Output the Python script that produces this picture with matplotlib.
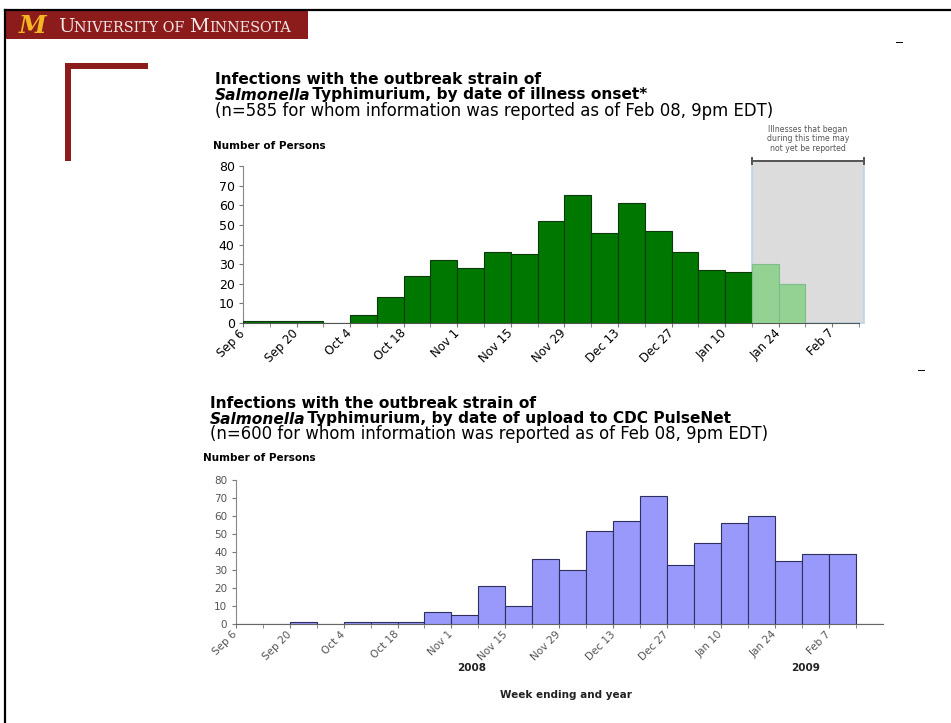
import numpy as np
import matplotlib
matplotlib.use('Agg')
import matplotlib.pyplot as plt
from matplotlib.patches import Rectangle
from matplotlib.lines import Line2D

W, H = 951, 723

# week-ending labels, one every second week, starting Sep 6 2008
week_labels = ['Sep 6', 'Sep 20', 'Oct 4', 'Oct 18', 'Nov 1', 'Nov 15',
               'Nov 29', 'Dec 13', 'Dec 27', 'Jan 10', 'Jan 24', 'Feb 7']
y_ticks = [0, 10, 20, 30, 40, 50, 60, 70, 80]

# persons per week by date of illness onset (n=585)
onset_counts = [1, 1, 1, 0, 4, 13, 24, 32, 28, 36, 35, 52, 65, 46, 61, 47,
                36, 27, 26, 30, 20, 0, 0]
onset_late_from = 19   # weeks from here on may not be fully reported yet

# persons per week by date of upload to PulseNet (n=600)
upload_counts = [0, 0, 1, 0, 1, 1, 1, 7, 5, 21, 10, 36, 30, 52, 57, 71,
                 33, 45, 56, 60, 35, 39, 39, 0]

plt.rcParams['font.family'] = ['DejaVu Sans']

fig = plt.figure(figsize=(W / 100, H / 100), dpi=100)
fig.patch.set_facecolor('white')


def fx(x):
    return x / W


def fy(y):
    return 1 - y / H


def axes_px(left, top, right, bottom):
    return fig.add_axes([left / W, 1 - bottom / H, (right - left) / W, (bottom - top) / H])


def fig_rect(x0, y0, x1, y1, color):
    fig.add_artist(Rectangle((fx(x0), fy(y1)), (x1 - x0) / W, (y1 - y0) / H,
                             transform=fig.transFigure, facecolor=color, edgecolor='none'))


def put_runs(x_px, y_px, runs, **common):
    # write pieces of text one after another on the same baseline
    renderer = fig.canvas.get_renderer()
    x = fx(x_px)
    for text, kw in runs:
        opts = dict(common)
        opts.update(kw)
        shift = opts.pop('shift', 0)
        x += shift / W
        t = fig.text(x, fy(y_px), text, ha='left', va='baseline', **opts)
        bb = t.get_window_extent(renderer)
        x = bb.x1 / fig.bbox.width


# ---- slide decoration ----
fig.add_artist(Line2D([fx(5), fx(951)], [fy(10), fy(10)], color='black', lw=1.6,
                      transform=fig.transFigure))
fig.add_artist(Line2D([fx(5), fx(5)], [fy(10), fy(723)], color='black', lw=1.6,
                      transform=fig.transFigure))
fig_rect(5, 11, 308, 39, '#8c1c1c')
fig.text(fx(33), fy(26), 'M', ha='center', va='center', fontsize=18, weight='bold',
         style='italic', family='DejaVu Serif', color='#f4b523')
put_runs(58, 32, [('U', dict(fontsize=14)), ('NIVERSITY OF ', dict(fontsize=10.4)),
                  ('M', dict(fontsize=14)), ('INNESOTA', dict(fontsize=10.4))],
         family='DejaVu Serif', color='#f5e8e8')
fig_rect(65, 63, 71, 161, '#8c1c1c')
fig_rect(65, 63, 148, 69, '#8c1c1c')
fig.add_artist(Line2D([fx(896), fx(902)], [fy(42), fy(42)], color='black', lw=0.7,
                      transform=fig.transFigure))
fig.add_artist(Line2D([fx(918), fx(924)], [fy(370), fy(370)], color='black', lw=0.7,
                      transform=fig.transFigure))

# ---- top chart: by illness onset ----
put_runs(215, 83.5, [('Infections with the outbreak strain of', dict(weight='bold'))],
         fontsize=11.1)
put_runs(215, 99.5, [('Salmonella', dict(style='italic', weight='bold')),
                     (' Typhimurium, by date of illness onset*', dict(weight='bold', shift=-4))],
         fontsize=11.1)
put_runs(215, 115.5, [('(n=585 for whom information was reported as of Feb 08, 9pm EDT)', {})],
         fontsize=11.9)
fig.text(fx(213), fy(146), 'Number of Persons', ha='left', va='center', fontsize=7.5,
         weight='bold')

ax1 = axes_px(243, 166, 859, 323)
x1 = np.arange(len(onset_counts))
fills = ['#007800' if i < onset_late_from else '#93d293' for i in x1]
edges = ['#0c3a0c' if i < onset_late_from else '#7cbf8c' for i in x1]
ax1.bar(x1, onset_counts, width=1, align='edge', color=fills, edgecolor=edges,
        linewidth=0.8, zorder=3)
box_right = len(onset_counts) + 0.2
ax1.add_patch(Rectangle((onset_late_from, 0), box_right - onset_late_from, 82.5,
                        facecolor='#dcdcdc', edgecolor='#bcd4e8', lw=1.2, zorder=1,
                        clip_on=False))
ax1.plot([onset_late_from, box_right], [82.5, 82.5], color='#555555', lw=1.4, clip_on=False,
         zorder=4)
for xb in (onset_late_from, box_right):
    ax1.plot([xb, xb], [80.8, 84.2], color='#555555', lw=1.4, clip_on=False, zorder=4)
ax1.text((onset_late_from + box_right) / 2, 93.8,
         'Illnesses that began\nduring this time may\nnot yet be reported',
         ha='center', va='center', fontsize=5.6, color='#555555', linespacing=1.05)
ax1.set_xlim(0, len(onset_counts))
ax1.set_ylim(0, 80)
ax1.set_xticks(np.arange(0, 24, 2), week_labels)
ax1.set_xticks(np.arange(1, 24, 2), minor=True)
ax1.set_yticks(y_ticks)
for s in ('top', 'right'):
    ax1.spines[s].set_visible(False)
ax1.spines['left'].set_color('#888888')
ax1.spines['bottom'].set_color('#555555')
ax1.tick_params(axis='both', which='both', direction='out', length=3, color='#777777')
ax1.tick_params(axis='y', labelsize=9, pad=3)
ax1.tick_params(axis='x', labelsize=8.5, pad=3)
for lbl in ax1.get_xticklabels():
    lbl.set_rotation(45)
    lbl.set_ha('right')
    lbl.set_va('center')
    lbl.set_rotation_mode('anchor')
ax1.set_facecolor('none')

# ---- bottom chart: by upload to PulseNet ----
put_runs(210, 407.5, [('Infections with the outbreak strain of', dict(weight='bold'))],
         fontsize=11.1)
put_runs(210, 423.5, [('Salmonella', dict(style='italic', weight='bold')),
                      (' Typhimurium, by date of upload to CDC PulseNet',
                       dict(weight='bold', shift=-4))],
         fontsize=11.1)
put_runs(210, 439.5, [('(n=600 for whom information was reported as of Feb 08, 9pm EDT)', {})],
         fontsize=11.9)
fig.text(fx(203), fy(458), 'Number of Persons', ha='left', va='center', fontsize=7.5,
         weight='bold')

ax2 = axes_px(235.7, 480, 883, 624.3)
x2 = np.arange(len(upload_counts))
ax2.bar(x2, upload_counts, width=1, align='edge', color='#9999fb', edgecolor='#2f2f5f',
        linewidth=0.8, zorder=3)
ax2.set_xlim(0, len(upload_counts))
ax2.set_ylim(0, 80)
ax2.set_xticks(np.arange(0, 24, 2), week_labels)
ax2.set_xticks(np.arange(1, 25, 2), minor=True)
ax2.set_yticks(y_ticks)
for s in ('top', 'right'):
    ax2.spines[s].set_visible(False)
ax2.spines['left'].set_color('#888888')
ax2.spines['bottom'].set_color('#666666')
ax2.tick_params(axis='both', which='both', direction='out', length=3, color='#777777',
                labelcolor='#555555')
ax2.tick_params(axis='y', labelsize=7.5, pad=3)
ax2.tick_params(axis='x', labelsize=7.5, pad=3)
for lbl in ax2.get_xticklabels():
    lbl.set_rotation(45)
    lbl.set_ha('right')
    lbl.set_va('center')
    lbl.set_rotation_mode('anchor')
ax2.set_facecolor('none')

fig.text(fx(472), fy(668), '2008', ha='center', va='center', fontsize=7.5, weight='bold',
         color='#222222')
fig.text(fx(806), fy(668), '2009', ha='center', va='center', fontsize=7.5, weight='bold',
         color='#222222')
fig.text(fx(566), fy(695), 'Week ending and year', ha='center', va='center', fontsize=7.5,
         weight='bold', color='#222222')

fig.savefig('out.png', dpi=100)
plt.close(fig)
